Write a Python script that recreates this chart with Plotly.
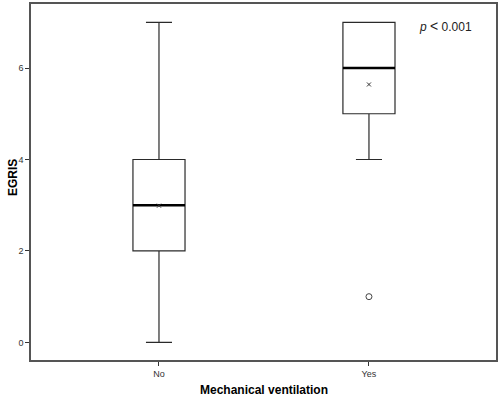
import plotly.graph_objects as go

categories = ["No", "Yes"]
q1 = [2, 5]
median = [3, 6]
q3 = [4, 7]
lower_whisker = [0, 4]
upper_whisker = [7, 7]
means = [2.99, 5.64]
outlier_group = [1]
outlier_values = [1]
y_ticks = [0, 2, 4, 6]

BOX_W = 0.248
pos = list(range(len(categories)))
line_col = "#2a2a2a"

fig = go.Figure()
fig.add_trace(go.Box(
    x=pos, q1=q1, median=median, q3=q3,
    lowerfence=lower_whisker, upperfence=upper_whisker,
    width=BOX_W, whiskerwidth=0.5,
    fillcolor="white", line=dict(color=line_col, width=1.2),
    boxpoints=False, showlegend=False, hoverinfo="skip",
))
# thick median lines
for i, m in zip(pos, median):
    fig.add_trace(go.Scatter(
        x=[i - BOX_W / 2, i + BOX_W / 2], y=[m, m], mode="lines",
        line=dict(color="black", width=2.6), showlegend=False, hoverinfo="skip",
    ))
# means
fig.add_trace(go.Scatter(
    x=pos, y=means, mode="markers",
    marker=dict(symbol="x-thin", size=4, line=dict(color="#333", width=1)),
    showlegend=False, hoverinfo="skip",
))
# outliers
fig.add_trace(go.Scatter(
    x=outlier_group, y=outlier_values, mode="markers",
    marker=dict(symbol="circle-open", size=6, color="#444", line=dict(width=1)),
    showlegend=False, hoverinfo="skip",
))

axis_common = dict(
    showgrid=False, zeroline=False, showline=True, linecolor="#555",
    linewidth=1.5, mirror=True, ticks="outside", ticklen=4, tickwidth=1,
    tickcolor="#333", tickfont=dict(family="Liberation Sans, Arial", size=9, color="#333"),
)
fig.update_xaxes(range=[-0.6095, 1.605], tickvals=pos, ticktext=categories, **axis_common)
fig.update_yaxes(range=[-0.385, 7.40], tickvals=y_ticks, **axis_common)

fig.add_annotation(text="<b>EGRIS</b>", xref="paper", yref="paper", x=0, y=0.5,
                   xshift=-18, yshift=4, xanchor="center", yanchor="middle",
                   textangle=-90, showarrow=False,
                   font=dict(family="Liberation Sans, Arial", size=12, color="black"))
fig.add_annotation(text="<b>Mechanical ventilation</b>", xref="paper", yref="paper",
                   x=0.5, y=0, yshift=-30, yanchor="middle", showarrow=False,
                   font=dict(family="Liberation Sans, Arial", size=12, color="black"))
fig.add_annotation(text="<i>p</i> <span style='font-size:14px'><</span> 0.001",
                   xref="paper", yref="paper",
                   x=(417 - 31) / 465, y=(360 - 24) / 358, xanchor="left", yanchor="middle",
                   showarrow=False,
                   font=dict(family="Liberation Sans, Arial", size=12, color="#222"))

fig.update_layout(
    width=500, height=397, margin=dict(l=31, r=4, t=2, b=37),
    plot_bgcolor="white", paper_bgcolor="white",
)
fig.write_html(
    "out.html",
    config={"displayModeBar": False},
    post_script="document.body.style.margin='0';document.body.style.padding='0';document.body.style.overflow='hidden';",
)
